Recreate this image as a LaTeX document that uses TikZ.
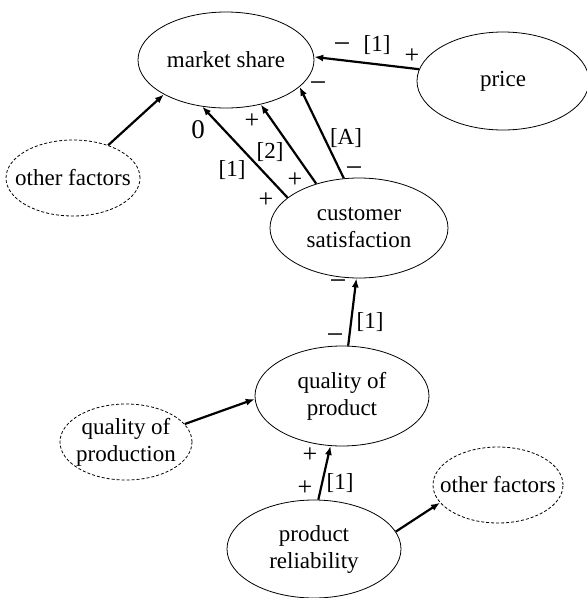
\documentclass[tikz,border=0pt]{standalone}
\usepackage{fontspec}
\setmainfont{Liberation Serif}
\usetikzlibrary{shapes.geometric,arrows.meta}
\newcommand{\zb}[1]{\makebox[0pt]{#1}}
\begin{document}
\begin{tikzpicture}[x=1pt,y=-1pt,
  var/.style={ellipse,draw,line width=0.8pt,inner sep=0pt,align=center,
    font=\fontsize{23}{27}\selectfont},
  ext/.style={var,dash pattern=on 3pt off 2pt},
  link/.style={line width=2.2pt,-{Latex[length=9pt,width=7pt]}},
  lab/.style={inner sep=0pt,font=\fontsize{23}{27}\selectfont},
  plus/.style={lab,font=\fontsize{26}{30}\selectfont},
  minus/.style={lab,font=\fontsize{30}{30}\selectfont}]
\useasboundingbox (0,0) rectangle (587,598);
% nodes
\node[var,minimum width=176pt,minimum height=96pt] (ms) at (226,60) {\zb{market share}};
\node[var,minimum width=172pt,minimum height=98pt] (pr) at (503,81) {\zb{price}};
\node[ext,minimum width=134pt,minimum height=76pt] (of1) at (73,178) {\zb{other factors}};
\node[var,minimum width=178pt,minimum height=100pt] (cs) at (359,228) {\zb{customer}\\\zb{satisfaction}};
\node[var,minimum width=174pt,minimum height=100pt] (qp) at (342,396) {\zb{quality of}\\\zb{product}};
\node[ext,minimum width=132pt,minimum height=76pt] (qn) at (126,442) {\zb{quality of}\\\zb{production}};
\node[var,minimum width=174pt,minimum height=98pt] (rl) at (314,549) {\zb{product}\\\zb{reliability}};
\node[ext,minimum width=130pt,minimum height=76pt] (of2) at (498,485) {\zb{other factors}};
% connectors
\draw[link] (pr.172.5) -- (ms.2);
\draw[link] (of1.43) -- (ms.209);
\draw[link] (cs.157) -- (ms.243);
\draw[link] (cs.134) -- (ms.308);
\draw[link] (cs.107) -- (ms.340);
\draw[link] (qp.83) -- (cs.267);
\draw[link] (rl.85) -- (qp.257);
\draw[link] (qn.17) -- (qp.182.5);
\draw[link] (rl.12) -- (of2.197);
% labels
\node[minus] (l1) at (342,48) {−};
\node[lab] (l2) at (377,45) {[1]};
\node[plus] (l3) at (412,56) {+};
\node[lab,font=\fontsize{27}{30}\selectfont] (l4) at (198,130) {0};
\node[lab] (l5) at (232,170) {[1]};
\node[plus] (l6) at (266,200) {+};
\node[plus] (l7) at (252,121) {+};
\node[lab] (l8) at (270,152) {[2]};
\node[plus] (l9) at (295,180) {+};
\node[minus] (l10) at (318,87) {−};
\node[lab] (l11) at (346,138) {[A]};
\node[minus] (l12) at (354,172) {−};
\node[minus] (l13) at (338,285) {−};
\node[lab] (l14) at (370,322) {[1]};
\node[minus] (l15) at (335,339) {−};
\node[plus] (l16) at (310,455) {+};
\node[plus] (l17) at (305,488) {+};
\node[lab] (l18) at (340,483) {[1]};
\end{tikzpicture}
\end{document}
